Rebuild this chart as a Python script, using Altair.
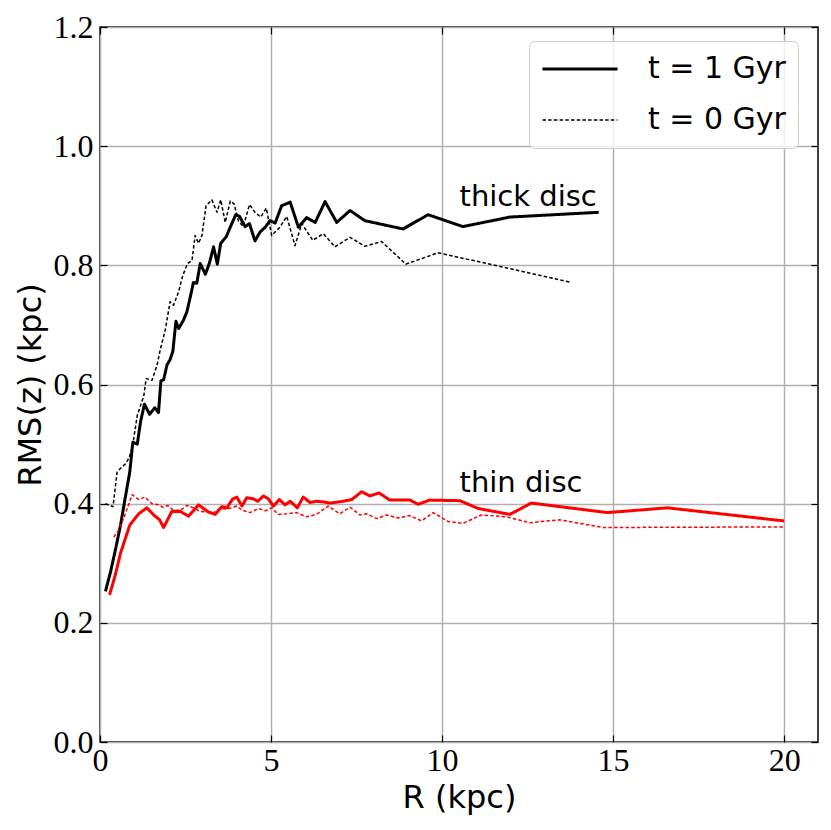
import altair as alt
import pandas as pd

# ---- data ----
thick1_R = [0.16, 0.31, 0.46, 0.60, 0.75, 0.87, 0.96, 1.09, 1.19, 1.30, 1.45, 1.60, 1.71, 1.78, 1.86,
            1.96, 2.05, 2.13, 2.22, 2.30, 2.44, 2.54, 2.64, 2.73, 2.83, 2.93, 3.08, 3.20, 3.32, 3.43,
            3.53, 3.69, 3.83, 3.97, 4.08, 4.24, 4.37, 4.53, 4.68, 4.83, 4.97, 5.12, 5.31, 5.56, 5.80,
            6.04, 6.29, 6.58, 6.92, 7.31, 7.74, 8.86, 9.59, 10.61, 11.98, 14.58]
thick1_rms = [0.253, 0.286, 0.325, 0.364, 0.414, 0.453, 0.503, 0.500, 0.539, 0.567, 0.550, 0.561, 0.553,
              0.606, 0.608, 0.633, 0.642, 0.656, 0.706, 0.694, 0.708, 0.722, 0.747, 0.771, 0.770, 0.803,
              0.785, 0.804, 0.831, 0.802, 0.837, 0.848, 0.867, 0.885, 0.882, 0.865, 0.870, 0.841, 0.856,
              0.864, 0.875, 0.871, 0.900, 0.906, 0.864, 0.880, 0.872, 0.907, 0.872, 0.892, 0.875, 0.861,
              0.885, 0.865, 0.881, 0.889]

thick0_R = [0.16, 0.38, 0.50, 0.63, 0.75, 0.86, 0.96, 1.09, 1.28, 1.35, 1.52, 1.67, 1.76, 1.91, 2.05,
            2.15, 2.30, 2.42, 2.56, 2.69, 2.78, 2.88, 2.98, 3.10, 3.27, 3.42, 3.53, 3.66, 3.81, 3.92,
            4.05, 4.19, 4.37, 4.53, 4.70, 4.86, 5.02, 5.26, 5.46, 5.70, 5.90, 6.22, 6.53, 6.87, 7.31,
            7.74, 8.23, 8.94, 9.88, 11.0, 13.73]
thick0_rms = [0.400, 0.395, 0.453, 0.461, 0.467, 0.478, 0.500, 0.548, 0.581, 0.610, 0.607, 0.633, 0.658,
              0.692, 0.739, 0.733, 0.756, 0.783, 0.803, 0.808, 0.850, 0.837, 0.850, 0.900, 0.910, 0.889,
              0.910, 0.872, 0.908, 0.903, 0.874, 0.865, 0.902, 0.889, 0.881, 0.896, 0.850, 0.864, 0.882,
              0.833, 0.870, 0.842, 0.853, 0.831, 0.847, 0.832, 0.840, 0.802, 0.821, 0.807, 0.772]

thin1_R = [0.28, 0.45, 0.60, 0.87, 1.13, 1.37, 1.57, 1.74, 1.86, 2.10, 2.35, 2.59, 2.88, 3.17, 3.37,
           3.56, 3.71, 3.88, 4.00, 4.15, 4.29, 4.49, 4.61, 4.78, 4.92, 5.07, 5.24, 5.41, 5.56, 5.77,
           5.94, 6.14, 6.33, 6.53, 6.72, 7.11, 7.36, 7.65, 7.89, 8.16, 8.47, 9.06, 9.30, 9.64, 10.52,
           11.05, 11.98, 12.61, 14.84, 16.59, 20.0]
thin1_rms = [0.247, 0.281, 0.317, 0.364, 0.383, 0.393, 0.381, 0.373, 0.360, 0.387, 0.387, 0.379, 0.398,
             0.386, 0.382, 0.395, 0.393, 0.408, 0.411, 0.396, 0.410, 0.408, 0.404, 0.413, 0.408, 0.396,
             0.407, 0.398, 0.404, 0.393, 0.411, 0.402, 0.404, 0.403, 0.401, 0.404, 0.407, 0.420, 0.413,
             0.418, 0.406, 0.406, 0.399, 0.406, 0.405, 0.392, 0.382, 0.401, 0.385, 0.393, 0.371]

thin0_R = [0.40, 0.55, 0.69, 0.94, 1.13, 1.32, 1.52, 1.71, 1.84, 1.98, 2.15, 2.35, 2.54, 2.73, 2.93,
           3.13, 3.32, 3.51, 3.71, 3.85, 4.00, 4.15, 4.39, 4.63, 4.83, 5.02, 5.21, 5.46, 5.75, 6.04,
           6.33, 6.67, 7.01, 7.31, 7.60, 7.79, 8.09, 8.38, 8.72, 9.06, 9.40, 9.74, 10.18, 10.61, 11.15,
           11.88, 12.56, 13.43, 14.70, 20.0]
thin0_rms = [0.344, 0.356, 0.375, 0.415, 0.407, 0.411, 0.400, 0.398, 0.394, 0.397, 0.389, 0.389, 0.397,
             0.393, 0.387, 0.386, 0.385, 0.392, 0.391, 0.393, 0.396, 0.389, 0.385, 0.392, 0.388, 0.393,
             0.382, 0.383, 0.385, 0.378, 0.382, 0.396, 0.383, 0.394, 0.381, 0.383, 0.375, 0.381, 0.376,
             0.380, 0.371, 0.385, 0.370, 0.367, 0.381, 0.378, 0.368, 0.373, 0.360, 0.361]

times = ["t = 1 Gyr", "t = 0 Gyr"]
discs = ["thick", "thin"]
x_ticks = [0, 5, 10, 15, 20]
y_ticks = [0.0, 0.2, 0.4, 0.6, 0.8, 1.0, 1.2]

ann_R = [10.51, 10.51]
ann_rms = [0.900, 0.420]
ann_text = ["thick disc", "thin disc"]

rows = []
for Rs, vs, d, t in [(thick1_R, thick1_rms, "thick", times[0]),
                     (thick0_R, thick0_rms, "thick", times[1]),
                     (thin1_R, thin1_rms, "thin", times[0]),
                     (thin0_R, thin0_rms, "thin", times[1])]:
    for r, v in zip(Rs, vs):
        rows.append({"R": r, "rms": v, "disc": d, "time": t})
df = pd.DataFrame(rows)
ann = pd.DataFrame({"R": ann_R, "rms": ann_rms, "label": ann_text})

x_scale = alt.Scale(domain=[0, 20.99], nice=False, zero=False)
y_scale = alt.Scale(domain=[0, 1.2], nice=False, zero=False)

legend = alt.Legend(
    title=None, orient="none", legendX=429, legendY=14, padding=12,
    fillColor="rgba(255,255,255,0.8)", strokeColor="#cccccc", cornerRadius=6,
    labelFont="DejaVu Sans", labelFontSize=30, labelColor="black", labelOffset=29,
    symbolType="stroke", symbolSize=5625, symbolStrokeColor="black",
    clipHeight=32, rowPadding=19,
)

lines = alt.Chart(df).mark_line(strokeJoin="round").encode(
    x=alt.X("R:Q", scale=x_scale,
            axis=alt.Axis(orient="bottom", values=x_ticks, title="R (kpc)", grid=True, ticks=False,
                          tickSize=0, labelFlush=False, labelOverlap=False, labelPadding=3,
                          titlePadding=6, format="d")),
    y=alt.Y("rms:Q", scale=y_scale,
            axis=alt.Axis(orient="left", values=y_ticks, title="RMS(z) (kpc)", grid=True, ticks=False,
                          tickSize=0, labelFlush=False, labelOverlap=False, labelPadding=7,
                          titlePadding=6, format=".1f")),
    color=alt.Color("disc:N", scale=alt.Scale(domain=discs, range=["black", "#ff0000"]), legend=None),
    strokeDash=alt.StrokeDash("time:N", scale=alt.Scale(domain=times, range=[[1, 0], [3.5, 2.2]]),
                              legend=legend),
    strokeWidth=alt.StrokeWidth("time:N", scale=alt.Scale(domain=times, range=[3, 1.5]), legend=legend),
)

labels = alt.Chart(ann).mark_text(align="left", baseline="alphabetic", font="DejaVu Sans",
                                  fontSize=29, color="black").encode(
    x=alt.X("R:Q", scale=x_scale, axis=None),
    y=alt.Y("rms:Q", scale=y_scale, axis=None),
    text="label:N",
)

tick_ax = dict(labels=False, domain=False, grid=False, ticks=True, tickSize=7, tickColor="black",
               tickWidth=1.2, title=None, offset=-7)

ticks_a = alt.Chart(df).mark_line(opacity=0).encode(
    x=alt.X("R:Q", scale=x_scale, axis=alt.Axis(orient="bottom", values=x_ticks, **tick_ax)),
    y=alt.Y("rms:Q", scale=y_scale, axis=alt.Axis(orient="left", values=y_ticks, **tick_ax)),
)
ticks_b = alt.Chart(df).mark_line(opacity=0).encode(
    x=alt.X("R:Q", scale=x_scale, axis=alt.Axis(orient="top", values=x_ticks, **tick_ax)),
    y=alt.Y("rms:Q", scale=y_scale, axis=alt.Axis(orient="right", values=y_ticks, **tick_ax)),
)

chart = alt.layer(lines, labels, ticks_a, ticks_b).resolve_axis(
    x="independent", y="independent"
).properties(
    width=718, height=715,
    autosize=alt.AutoSizeParams(type="none"),
    padding={"left": 92, "top": 19, "right": 5, "bottom": 80},
).configure_view(
    stroke="black", strokeWidth=1.5
).configure_axis(
    labelFont="Liberation Serif", labelFontSize=32, labelColor="black",
    titleFont="DejaVu Sans", titleFontSize=32, titleColor="black", titleFontWeight="normal",
    gridColor="#b0b0b0", gridWidth=1.5, domain=False,
)

chart.save("out.html", embed_options={"renderer": "svg", "actions": False})
